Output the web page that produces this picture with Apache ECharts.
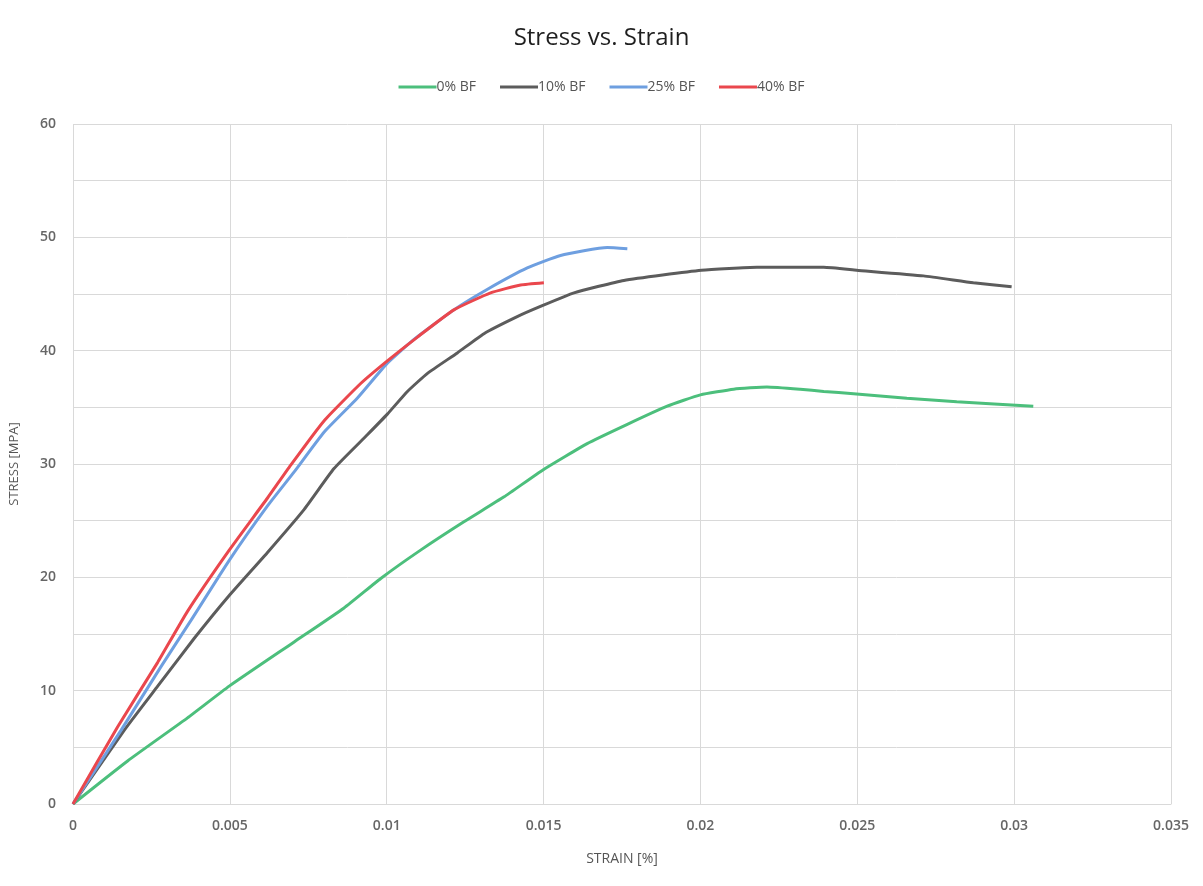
<!DOCTYPE html>
<html>
<head>
<meta charset="utf-8">
<script src="https://cdn.jsdelivr.net/npm/echarts@6/dist/echarts.min.js"></script>
<style>
  html, body { margin: 0; padding: 0; background: #fff; }
  #chart { width: 1203px; height: 886px; }
</style>
</head>
<body>
<div id="chart"></div>
<script>
  // strain / stress values
  const seriesNames = ['0% BF', '10% BF', '25% BF', '40% BF'];

  const strain0 = [0, 0.00174, 0.00365, 0.00498, 0.00705, 0.00864, 0.00981, 0.01108, 0.01246, 0.01374, 0.01499, 0.01639, 0.01767, 0.01894, 0.02, 0.02106, 0.02212, 0.02318, 0.02393, 0.02488, 0.02658, 0.02817, 0.03061];
  const stress0 = [0, 3.8, 7.6, 10.4, 14.3, 17.3, 19.9, 22.4, 24.9, 27.1, 29.5, 31.8, 33.5, 35.1, 36.1, 36.6, 36.8, 36.6, 36.4, 36.2, 35.8, 35.5, 35.1];

  const strain10 = [0, 0.00163, 0.0027, 0.00386, 0.00498, 0.0062, 0.00737, 0.00832, 0.00939, 0.01002, 0.01066, 0.0113, 0.01225, 0.0131, 0.01416, 0.0149, 0.01597, 0.01756, 0.02003, 0.0218, 0.02393, 0.02498, 0.02711, 0.0287, 0.02992];
  const stress10 = [0, 6.5, 10.4, 14.6, 18.4, 22.2, 26.0, 29.6, 32.6, 34.4, 36.4, 38.0, 39.8, 41.5, 43.0, 43.9, 45.1, 46.2, 47.1, 47.35, 47.35, 47.1, 46.6, 46.0, 45.65];

  const strain25 = [0, 0.00153, 0.0028, 0.00376, 0.00498, 0.0062, 0.00705, 0.008, 0.00906, 0.01002, 0.01087, 0.01214, 0.0132, 0.01448, 0.01554, 0.01703, 0.01767];
  const stress25 = [0, 6.5, 12.1, 16.2, 21.5, 26.3, 29.3, 32.8, 35.8, 38.9, 41.0, 43.6, 45.4, 47.3, 48.4, 49.1, 49.0];

  const strain40 = [0, 0.00142, 0.0027, 0.00365, 0.00498, 0.0062, 0.00694, 0.008, 0.00917, 0.01002, 0.01098, 0.01214, 0.01331, 0.01427, 0.01501];
  const stress40 = [0, 6.8, 12.5, 17.0, 22.4, 27.0, 29.9, 33.8, 37.1, 39.1, 41.2, 43.6, 45.1, 45.8, 46.0];

  const colors = ['#4cbf7c', '#5c5c5c', '#6e9fe0', '#ea474d'];

  function pairs(xs, ys) {
    return xs.map((x, i) => [x, ys[i]]);
  }

  const chart = echarts.init(document.getElementById('chart'));
  const lineSeries = [
    pairs(strain0, stress0),
    pairs(strain10, stress10),
    pairs(strain25, stress25),
    pairs(strain40, stress40)
  ].map((d, i) => ({
    name: seriesNames[i],
    type: 'line',
    data: d,
    smooth: 0.15,
    showSymbol: false,
    lineStyle: { width: 3, color: colors[i] },
    itemStyle: { color: colors[i] }
  }));

  const font = 'Open Sans';
  const option = {
    animation: false,
    title: {
      text: 'Stress vs. Strain',
      left: 'center',
      top: 21,
      textStyle: { fontFamily: font, fontSize: 24, fontWeight: 'normal', color: '#1f1f1f' }
    },
    legend: {
      top: 75,
      left: 'center',
      itemWidth: 38,
      itemHeight: 3,
      itemGap: 24,
      icon: 'rect',
      textStyle: { fontFamily: font, fontSize: 14, color: '#555', padding: [0, 0, 0, -5] },
      data: seriesNames
    },
    grid: { left: 72, right: 32, top: 124, bottom: 82 },
    xAxis: {
      type: 'value',
      min: 0,
      max: 0.035,
      interval: 0.005,
      name: 'STRAIN [%]',
      nameLocation: 'middle',
      nameGap: 48,
      nameTextStyle: { fontFamily: font, fontSize: 14, color: '#555' },
      axisLine: { show: true, lineStyle: { color: '#d9d9d9', width: 1 } },
      axisTick: { show: false },
      axisLabel: { fontFamily: font, fontSize: 14, fontWeight: 600, color: '#666', margin: 15 },
      splitLine: { show: true, lineStyle: { color: '#d9d9d9', width: 1 } }
    },
    yAxis: {
      type: 'value',
      min: 0,
      max: 60,
      interval: 10,
      name: 'STRESS [MPA]',
      nameLocation: 'middle',
      nameGap: 52,
      nameTextStyle: { fontFamily: font, fontSize: 13, color: '#555' },
      axisLine: { show: false },
      axisTick: { show: false },
      axisLabel: { fontFamily: font, fontSize: 14, fontWeight: 600, color: '#666', margin: 17 },
      splitLine: { show: true, lineStyle: { color: '#d9d9d9', width: 1 } },
      minorTick: { show: false, splitNumber: 2 },
      minorSplitLine: { show: true, lineStyle: { color: '#d9d9d9', width: 1 } }
    },
    series: lineSeries
  };

  chart.setOption(option);
</script>
</body>
</html>
